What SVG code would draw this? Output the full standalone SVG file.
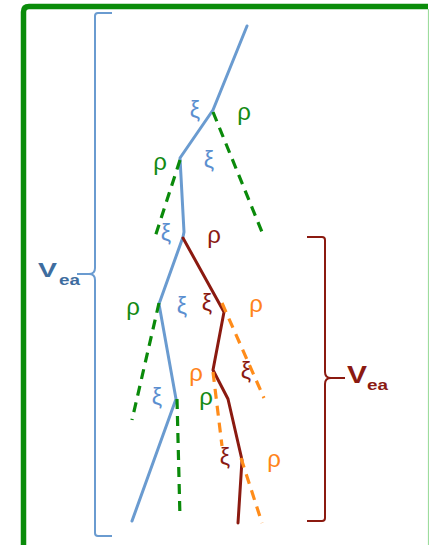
<svg xmlns="http://www.w3.org/2000/svg" width="429" height="545" viewBox="0 0 429 545">
<style>
.lbl{font-family:"Liberation Sans",Arial,sans-serif;text-anchor:middle}
.r{font-size:24px}
.x{font-size:23px}
.vea{font-family:"Liberation Sans",Arial,sans-serif;font-weight:bold}
.blue{fill:#5b8fd0}
.green{fill:#138a13}
.red{fill:#8b1a12}
.orange{fill:#ff8419}
.sb{fill:none;stroke:#6a9bd0;stroke-width:3;stroke-linejoin:round;stroke-linecap:round}
.sr{fill:none;stroke:#8b1a10;stroke-width:3;stroke-linejoin:round;stroke-linecap:round}
.dg{fill:none;stroke:#0a8a0a;stroke-width:3.2;stroke-dasharray:10 7}
.do{fill:none;stroke:#ff8c1a;stroke-width:3.2;stroke-dasharray:10 7}
.br{fill:none;stroke-width:2;stroke-linejoin:round}
</style>
<rect width="429" height="545" fill="#ffffff"/>
<g id="frame">
<path d="M23.5,545 V12 Q23.5,6.5 29,6.5 H428" fill="none" stroke="#0a8c0a" stroke-width="5.5"/>
<line x1="428.5" y1="9" x2="428.5" y2="545" stroke="#9ddc9d" stroke-width="1.2"/>
</g>
<g id="connectors">
<polyline class="sb" points="247,26 213,110 180,158 184,232 183,237 159,304 176,399 132,521"/>
<line class="dg" x1="213" y1="112" x2="264" y2="237"/>
<line class="dg" x1="180" y1="160" x2="155" y2="237"/>
<line class="dg" x1="159" y1="303" x2="132" y2="420"/>
<line class="dg" x1="177" y1="399" x2="180" y2="518"/>
<polyline class="sr" points="183,238 224,312 213,370 228,399 242,460 238,523"/>
<line class="do" x1="222" y1="303" x2="264" y2="398"/>
<line class="do" x1="213" y1="372" x2="222" y2="446"/>
<line class="do" x1="241" y1="458" x2="262" y2="523"/>
</g>
<g id="brace-blue">
<path class="br" stroke="#6a9bd0" d="M112,13 L98,13 Q95,13 95,16 L95,268 Q95,274 89,274 L77,274 M89,274 Q95,274 95,280 L95,533 Q95,536 98,536 L112,536"/>
<text class="vea" x="38" y="277" font-size="20" fill="#3e6d9f" textLength="19" lengthAdjust="spacingAndGlyphs">V</text>
<text class="vea" x="59" y="285" font-size="14" fill="#3e6d9f" textLength="21" lengthAdjust="spacingAndGlyphs">ea</text>
</g>
<g id="brace-red">
<path class="br" stroke="#8b1a10" d="M307,237 L322,237 Q325,237 325,240 L325,372 Q325,378 331,378 L345,378 M331,378 Q325,378 325,384 L325,518 Q325,521 322,521 L307,521"/>
<text class="vea" x="347" y="383" font-size="23" fill="#8b1a12" textLength="20" lengthAdjust="spacingAndGlyphs">V</text>
<text class="vea" x="367" y="389.5" font-size="14" fill="#8b1a12" textLength="21" lengthAdjust="spacingAndGlyphs">ea</text>
</g>
<g id="labels">
<text class="lbl x blue" x="195" y="118">ξ</text>
<text class="lbl r green" x="244" y="120">ρ</text>
<text class="lbl r green" x="160" y="170">ρ</text>
<text class="lbl x blue" x="209" y="167.5">ξ</text>
<text class="lbl x blue" x="166" y="241">ξ</text>
<text class="lbl r red" x="214" y="243">ρ</text>
<text class="lbl r green" x="133" y="315">ρ</text>
<text class="lbl x blue" x="182" y="314">ξ</text>
<text class="lbl x red" x="207" y="311">ξ</text>
<text class="lbl r orange" x="256" y="312">ρ</text>
<text class="lbl r orange" x="196" y="381">ρ</text>
<text class="lbl x red" x="246" y="378.5">ξ</text>
<text class="lbl x blue" x="157" y="405">ξ</text>
<text class="lbl r green" x="206" y="405">ρ</text>
<text class="lbl x red" x="225" y="465">ξ</text>
<text class="lbl r orange" x="274" y="467">ρ</text>
</g>
</svg>
